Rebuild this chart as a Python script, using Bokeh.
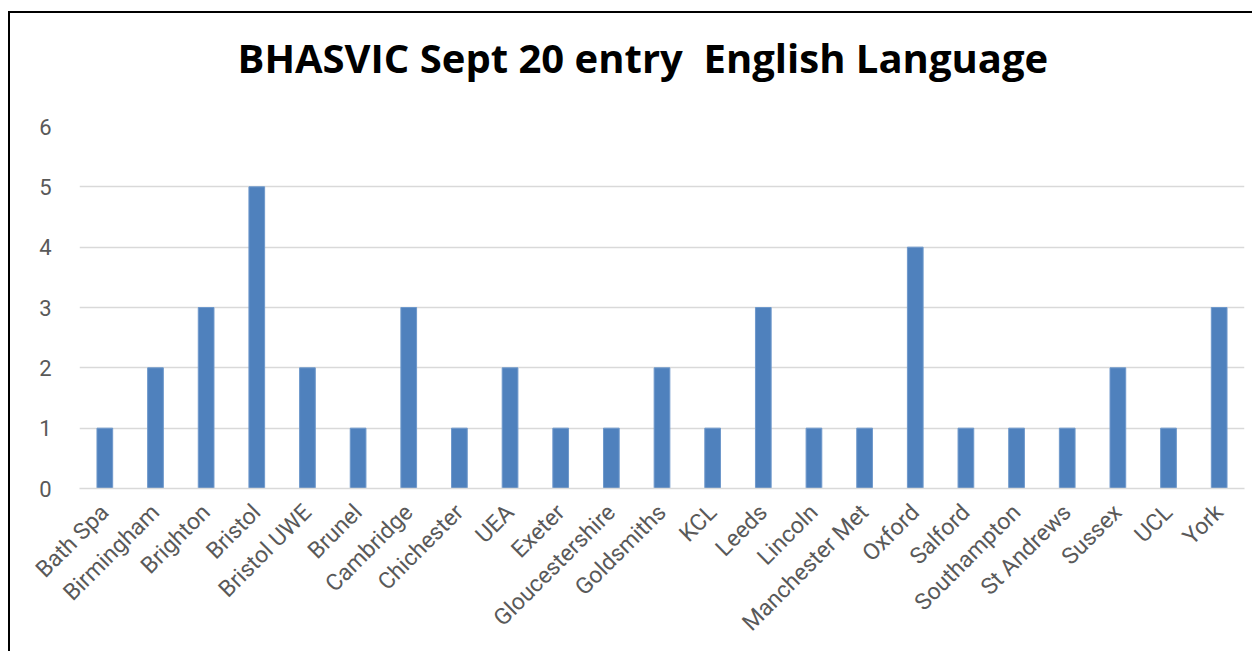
from math import pi
from bokeh.plotting import figure
from bokeh.models import Title, Range1d
from bokeh.embed import file_html
from bokeh.resources import INLINE

universities = ["Bath Spa", "Birmingham", "Brighton", "Bristol", "Bristol UWE", "Brunel",
                "Cambridge", "Chichester", "UEA", "Exeter", "Gloucestershire", "Goldsmiths",
                "KCL", "Leeds", "Lincoln", "Manchester Met", "Oxford", "Salford",
                "Southampton", "St Andrews", "Sussex", "UCL", "York"]
counts = [1, 2, 3, 5, 2, 1, 3, 1, 2, 1, 1, 2, 1, 3, 1, 1, 4, 1, 1, 1, 2, 1, 3]
y_ticks = [0, 1, 2, 3, 4, 5, 6]
title_text = "BHASVIC Sept 20 entry\u00a0 English Language"

p = figure(x_range=universities, y_range=Range1d(0, 6), width=1244, height=640,
           output_backend="svg", toolbar_location=None,
           min_border_left=69, min_border_right=10, min_border_top=113, min_border_bottom=165)
p.styles = {"border-left": "2px solid #000", "border-top": "2px solid #000",
            "margin-left": "8px", "margin-top": "11px"}

p.vbar(x=universities, top=counts, width=0.31, fill_color="#4F81BD", line_color="#6E98CB", line_width=1)

p.title = Title(text=title_text, align="left", offset=158,
                text_font="Open Sans", text_font_size="40px", text_font_style="bold",
                text_color="#000000", standoff=20)
spacer = Title(text=" ", text_font_size="1px", standoff=29)
p.add_layout(spacer, "above")

p.outline_line_color = None
p.xgrid.grid_line_color = None
p.ygrid.grid_line_color = "#d9d9d9"
p.ygrid.grid_line_width = 1.5
p.yaxis.ticker = y_ticks
p.yaxis.axis_line_color = None
p.yaxis.major_tick_line_color = None
p.yaxis.minor_tick_line_color = None
p.yaxis.major_label_text_font = "Roboto"
p.yaxis.major_label_text_font_size = "22px"
p.yaxis.major_label_text_color = "#595959"
p.yaxis.major_label_standoff = 22

p.xaxis.axis_line_color = "#d9d9d9"
p.xaxis.axis_line_width = 1.5
p.xaxis.major_tick_line_color = None
p.xaxis.minor_tick_line_color = None
p.xaxis.major_label_orientation = pi / 4
p.xaxis.major_label_text_font = "Roboto"
p.xaxis.major_label_text_font_size = "23px"
p.xaxis.major_label_text_color = "#595959"
p.xaxis.major_label_standoff = 14
p.x_range.range_padding = 0

open("out.html", "w").write(file_html(p, INLINE))
